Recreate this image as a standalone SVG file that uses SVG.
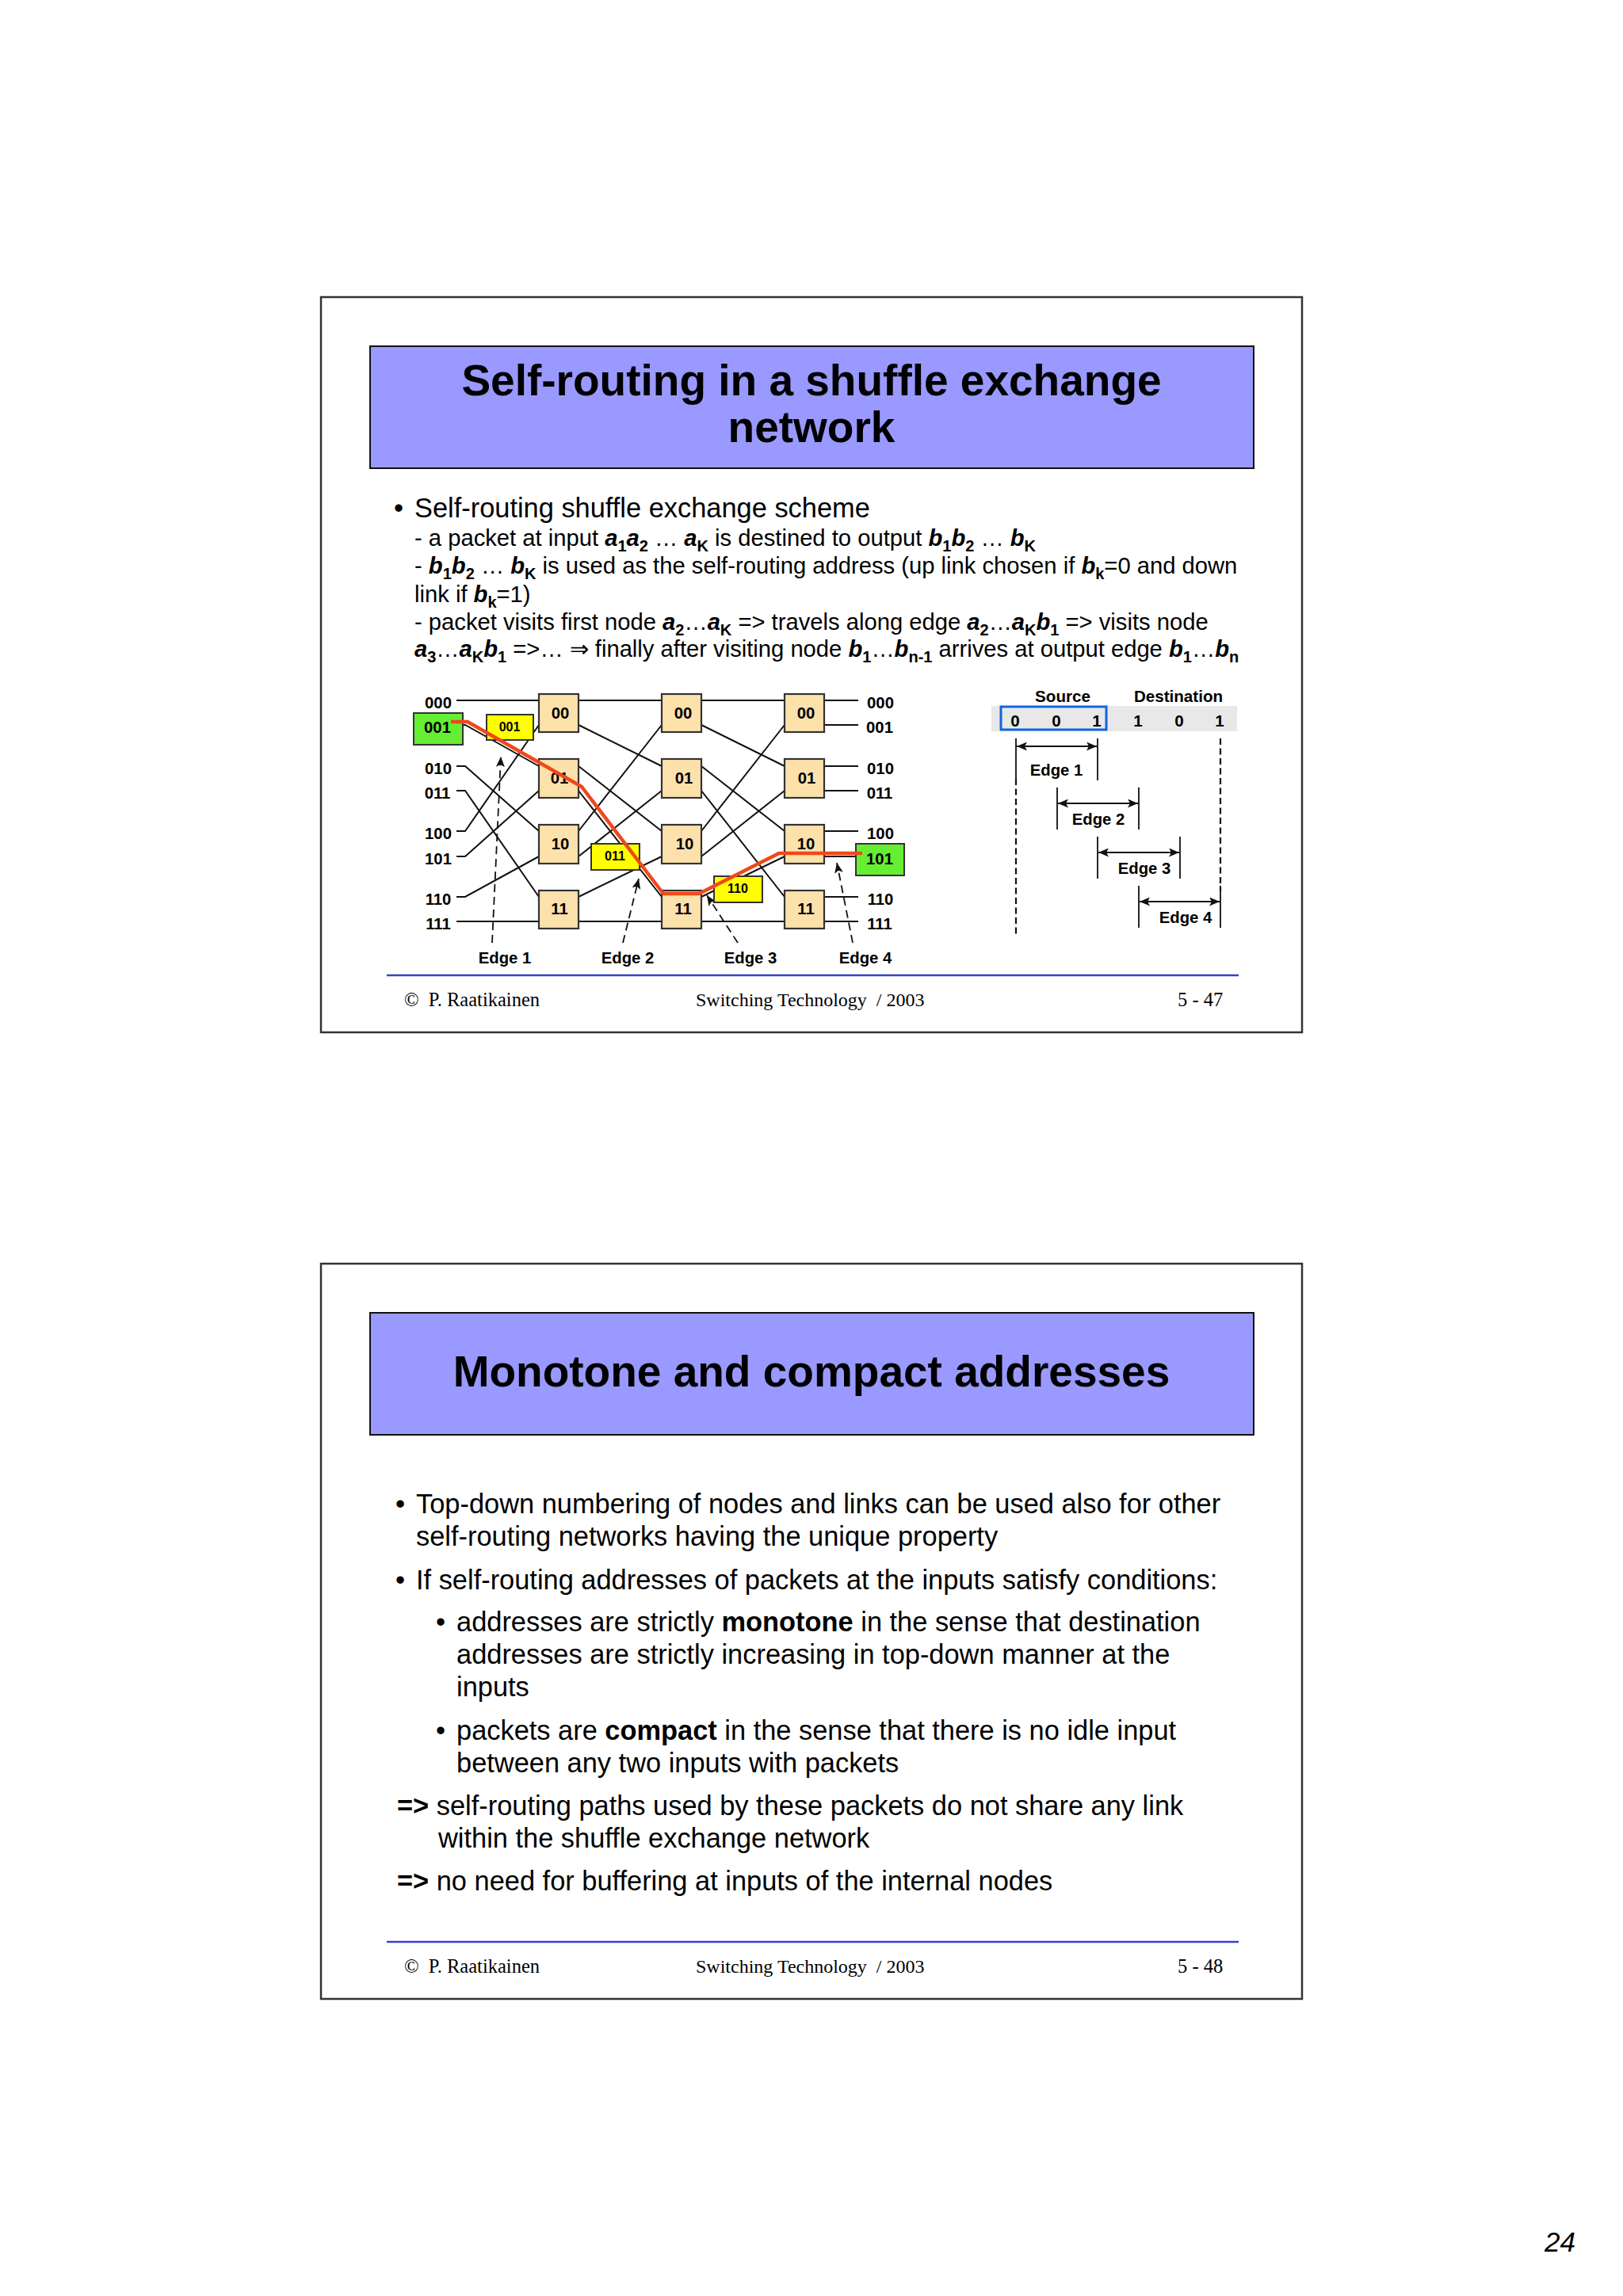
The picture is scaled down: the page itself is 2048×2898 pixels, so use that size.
<svg xmlns="http://www.w3.org/2000/svg" width="2048" height="2898" viewBox="0 0 2048 2898">
<style>
text{font-family:"Liberation Sans",Arial,sans-serif;fill:#000}
.frame{fill:#fff;stroke:#333;stroke-width:2.5}
.title{fill:#9999ff;stroke:#111;stroke-width:2}
.tt{font-size:55px;font-weight:bold;text-anchor:middle}
.rule{stroke:#3344cc;stroke-width:2.5}
.foot{font-family:"Liberation Serif",serif;font-size:24.5px}
.ft2{font-size:24px}
.big{font-size:34.4px}
.sm{font-size:29.2px}
.bi{font-weight:bold;font-style:italic}
.s{font-size:20px;font-weight:bold}
.b{font-weight:bold}
.lab{font-size:20.3px;font-weight:bold;text-anchor:middle}
.hd{font-size:20.6px;font-weight:bold;text-anchor:middle}
.pk{font-size:16px;font-weight:bold;text-anchor:middle}
.nd{fill:#fde1ab;stroke:#333;stroke-width:2.2}
.yl{fill:#ffff00;stroke:#333;stroke-width:2}
.gr{fill:#66ee33;stroke:#333;stroke-width:2}
.w{fill:none;stroke:#111;stroke-width:2}
.d{fill:none;stroke:#111;stroke-width:1.8;stroke-dasharray:10 6;marker-end:url(#ah)}
.t{stroke:#111;stroke-width:1.8}
.v{stroke:#111;stroke-width:2.2;stroke-dasharray:8 4.5}
.dbl{stroke:#111;stroke-width:1.8;marker-start:url(#ahs);marker-end:url(#ah)}
.red{fill:none;stroke:#f0481a;stroke-width:4.5;stroke-linejoin:round}
</style>
<defs>
<marker id="ah" viewBox="0 0 13 11" refX="13" refY="5.5" markerWidth="13" markerHeight="11" markerUnits="userSpaceOnUse" orient="auto"><path d="M0 0L13 5.5L0 11L3 5.5Z" fill="#111"/></marker>
<marker id="ahs" viewBox="0 0 13 11" refX="0" refY="5.5" markerWidth="13" markerHeight="11" markerUnits="userSpaceOnUse" orient="auto"><path d="M13 0L0 5.5L13 11L10 5.5Z" fill="#111"/></marker>
</defs>
<rect width="2048" height="2898" fill="#fff"/>

<g id="slide-47-frame">
<rect class="frame" x="405" y="375" width="1238" height="928"/>
<rect class="title" x="467" y="437" width="1115" height="154"/>
<text class="tt" x="1024" y="499">Self-routing in a shuffle exchange</text>
<text class="tt" x="1024" y="558">network</text>
</g>

<g id="slide-47-text">
<text class="big" x="497" y="653">•</text>
<text class="big" x="523" y="653">Self-routing shuffle exchange scheme</text>
<text class="sm" x="523" y="689">- a packet at input <tspan class="bi">a</tspan><tspan class="s" dy="7">1</tspan><tspan class="bi" dy="-7">a</tspan><tspan class="s" dy="7">2</tspan><tspan dy="-7"> … </tspan><tspan class="bi">a</tspan><tspan class="s" dy="7">K</tspan><tspan dy="-7"> is destined to output </tspan><tspan class="bi">b</tspan><tspan class="s" dy="7">1</tspan><tspan class="bi" dy="-7">b</tspan><tspan class="s" dy="7">2</tspan><tspan dy="-7"> … </tspan><tspan class="bi">b</tspan><tspan class="s" dy="7">K</tspan></text>
<text class="sm" x="523" y="724">- <tspan class="bi">b</tspan><tspan class="s" dy="7">1</tspan><tspan class="bi" dy="-7">b</tspan><tspan class="s" dy="7">2</tspan><tspan dy="-7"> … </tspan><tspan class="bi">b</tspan><tspan class="s" dy="7">K</tspan><tspan dy="-7"> is used as the self-routing address (up link chosen if </tspan><tspan class="bi">b</tspan><tspan class="s" dy="7">k</tspan><tspan dy="-7">=0 and down</tspan></text>
<text class="sm" x="523" y="760">link if <tspan class="bi">b</tspan><tspan class="s" dy="7">k</tspan><tspan dy="-7">=1)</tspan></text>
<text class="sm" x="523" y="795">- packet visits first node <tspan class="bi">a</tspan><tspan class="s" dy="7">2</tspan><tspan dy="-7">…</tspan><tspan class="bi">a</tspan><tspan class="s" dy="7">K</tspan><tspan dy="-7"> =&gt; travels along edge </tspan><tspan class="bi">a</tspan><tspan class="s" dy="7">2</tspan><tspan dy="-7">…</tspan><tspan class="bi">a</tspan><tspan class="s" dy="7">K</tspan><tspan class="bi" dy="-7">b</tspan><tspan class="s" dy="7">1</tspan><tspan dy="-7"> =&gt; visits node</tspan></text>
<text class="sm" x="523" y="829"><tspan class="bi">a</tspan><tspan class="s" dy="7">3</tspan><tspan dy="-7">…</tspan><tspan class="bi">a</tspan><tspan class="s" dy="7">K</tspan><tspan class="bi" dy="-7">b</tspan><tspan class="s" dy="7">1</tspan><tspan dy="-7"> =&gt;… ⇒ finally after visiting node </tspan><tspan class="bi">b</tspan><tspan class="s" dy="7">1</tspan><tspan dy="-7">…</tspan><tspan class="bi">b</tspan><tspan class="s" dy="7">n-1</tspan><tspan dy="-7"> arrives at output edge </tspan><tspan class="bi">b</tspan><tspan class="s" dy="7">1</tspan><tspan dy="-7">…</tspan><tspan class="bi">b</tspan><tspan class="s" dy="7">n</tspan></text>
</g>

<g id="connectors">
<path class="w" d="M576 884H1083M576 1163H1083"/>
<path class="w" d="M576 915H587L680 967M576 967H587L680 1049M576 998H587L680 1132M576 1049H587L680 915M576 1081H587L680 998M576 1132H587L680 1081"/>
<path class="w" d="M730 915L835 967M730 967L835 1049M730 998L835 1132M730 1049L835 915M730 1081L835 998M730 1132L835 1081"/>
<path class="w" d="M885 915L990 967M885 967L990 1049M885 998L990 1132M885 1049L990 915M885 1081L990 998M885 1132L990 1081"/>
<path class="w" d="M1040 915H1083M1040 967H1083M1040 998H1083M1040 1049H1083M1040 1081H1083M1040 1132H1083"/>
<path class="d" d="M621 1190L632 955"/>
<path class="d" d="M786 1190L806 1109"/>
<path class="d" d="M931 1190L892 1130"/>
<path class="d" d="M1076 1190L1056 1089"/>
</g>

<g id="in-000"><text class="lab" x="553" y="894">000</text></g>
<g id="in-001"><rect class="gr" x="522" y="900" width="62" height="40"/><text class="lab" x="552" y="925">001</text></g>
<g id="in-010"><text class="lab" x="553" y="977">010</text></g>
<g id="in-011"><text class="lab" x="552" y="1008">011</text></g>
<g id="in-100"><text class="lab" x="553" y="1059">100</text></g>
<g id="in-101"><text class="lab" x="553" y="1091">101</text></g>
<g id="in-110"><text class="lab" x="553" y="1142">110</text></g>
<g id="in-111"><text class="lab" x="553" y="1173">111</text></g>

<g id="n1-00"><rect class="nd" x="680" y="876" width="50" height="48"/><text class="lab" x="707" y="907">00</text></g>
<g id="n1-01"><rect class="nd" x="680" y="958" width="50" height="49"/><text class="lab" x="706" y="989">01</text></g>
<g id="n1-10"><rect class="nd" x="680" y="1041" width="50" height="49"/><text class="lab" x="707" y="1072">10</text></g>
<g id="n1-11"><rect class="nd" x="680" y="1124" width="50" height="48"/><text class="lab" x="706" y="1154">11</text></g>
<g id="n2-00"><rect class="nd" x="835" y="876" width="50" height="48"/><text class="lab" x="862" y="907">00</text></g>
<g id="n2-01"><rect class="nd" x="835" y="958" width="50" height="49"/><text class="lab" x="863" y="989">01</text></g>
<g id="n2-10"><rect class="nd" x="835" y="1041" width="50" height="49"/><text class="lab" x="864" y="1072">10</text></g>
<g id="n2-11"><rect class="nd" x="835" y="1124" width="50" height="48"/><text class="lab" x="862" y="1154">11</text></g>
<g id="n3-00"><rect class="nd" x="990" y="876" width="50" height="48"/><text class="lab" x="1017" y="907">00</text></g>
<g id="n3-01"><rect class="nd" x="990" y="958" width="50" height="49"/><text class="lab" x="1018" y="989">01</text></g>
<g id="n3-10"><rect class="nd" x="990" y="1041" width="50" height="49"/><text class="lab" x="1017" y="1072">10</text></g>
<g id="n3-11"><rect class="nd" x="990" y="1124" width="50" height="48"/><text class="lab" x="1017" y="1154">11</text></g>

<g id="out-000"><text class="lab" x="1111" y="894">000</text></g>
<g id="out-001"><text class="lab" x="1110" y="925">001</text></g>
<g id="out-010"><text class="lab" x="1111" y="977">010</text></g>
<g id="out-011"><text class="lab" x="1110" y="1008">011</text></g>
<g id="out-100"><text class="lab" x="1111" y="1059">100</text></g>
<g id="out-101"><rect class="gr" x="1080" y="1065" width="61" height="40"/><text class="lab" x="1110" y="1091">101</text></g>
<g id="out-110"><text class="lab" x="1111" y="1142">110</text></g>
<g id="out-111"><text class="lab" x="1110" y="1173">111</text></g>

<g id="pk-001"><rect class="yl" x="614" y="902" width="59" height="32"/><text class="pk" x="643" y="923">001</text></g>
<g id="pk-011"><rect class="yl" x="746" y="1065" width="61" height="33"/><text class="pk" x="776" y="1086">011</text></g>
<g id="pk-110"><rect class="yl" x="901" y="1106" width="61" height="33"/><text class="pk" x="931" y="1127">110</text></g>

<g id="route"><path class="red" d="M569 911H590L734 993L837 1128H882L983 1077H1088"/></g>

<g id="edge-labels">
<text class="lab" x="637" y="1216">Edge 1</text>
<text class="lab" x="792" y="1216">Edge 2</text>
<text class="lab" x="947" y="1216">Edge 3</text>
<text class="lab" x="1092" y="1216">Edge 4</text>
</g>

<g id="address-bar">
<rect x="1251" y="891" width="310" height="32" fill="#e8e8e8"/>
<rect x="1263" y="892" width="133" height="29" fill="none" stroke="#1166dd" stroke-width="3"/>
<text class="hd" x="1341" y="886">Source</text>
<text class="hd" x="1487" y="886">Destination</text>
<text class="hd" x="1281" y="917">0</text>
<text class="hd" x="1333" y="917">0</text>
<text class="hd" x="1384" y="917">1</text>
<text class="hd" x="1436" y="917">1</text>
<text class="hd" x="1488" y="917">0</text>
<text class="hd" x="1539" y="917">1</text>
</g>
<g id="edge-spans">
<path class="t" d="M1282 932V983M1385 932V985M1334 994V1047M1437 994V1047M1385 1056V1109M1489 1056V1109M1437 1118V1171M1540 1118V1171"/>
<path class="v" d="M1282 983V1182M1540 932V1125"/>
<path class="dbl" d="M1283 942H1384"/>
<path class="dbl" d="M1335 1014H1436"/>
<path class="dbl" d="M1386 1076H1488"/>
<path class="dbl" d="M1438 1138H1539"/>
<text class="lab" x="1333" y="979">Edge 1</text>
<text class="lab" x="1386" y="1041">Edge 2</text>
<text class="lab" x="1444" y="1103">Edge 3</text>
<text class="lab" x="1496" y="1165">Edge 4</text>
</g>

<g id="slide-47-footer">
<line class="rule" x1="488" y1="1231" x2="1563" y2="1231"/>
<text class="foot" x="510" y="1270">©&#160;&#160;P. Raatikainen</text>
<text class="foot ft2" x="878" y="1270">Switching Technology&#160;&#160;/ 2003</text>
<text class="foot" x="1486" y="1270">5 - 47</text>
</g>

<g id="slide-48-frame">
<rect class="frame" x="405" y="1595" width="1238" height="928"/>
<rect class="title" x="467" y="1657" width="1115" height="154"/>
<text class="tt" x="1024" y="1750">Monotone and compact addresses</text>
</g>
<g id="slide-48-text">
<text class="big" x="499" y="1910">•</text><text class="big" x="525" y="1910">Top-down numbering of nodes and links can be used also for other</text>
<text class="big" x="525" y="1951">self-routing networks having the unique property</text>
<text class="big" x="499" y="2006">•</text><text class="big" x="525" y="2006">If self-routing addresses of packets at the inputs satisfy conditions:</text>
<text class="big" x="550" y="2059">•</text><text class="big" x="576" y="2059">addresses are strictly <tspan class="b">monotone</tspan> in the sense that destination</text>
<text class="big" x="576" y="2100">addresses are strictly increasing in top-down manner at the</text>
<text class="big" x="576" y="2141">inputs</text>
<text class="big" x="550" y="2196">•</text><text class="big" x="576" y="2196">packets are <tspan class="b">compact</tspan> in the sense that there is no idle input</text>
<text class="big" x="576" y="2237">between any two inputs with packets</text>
<text class="big" x="501" y="2291"><tspan class="b">=&gt;</tspan> self-routing paths used by these packets do not share any link</text>
<text class="big" x="553" y="2332">within the shuffle exchange network</text>
<text class="big" x="501" y="2386"><tspan class="b">=&gt;</tspan> no need for buffering at inputs of the internal nodes</text>
</g>
<g id="slide-48-footer">
<line class="rule" x1="488" y1="2451" x2="1563" y2="2451"/>
<text class="foot" x="510" y="2490">©&#160;&#160;P. Raatikainen</text>
<text class="foot ft2" x="878" y="2490">Switching Technology&#160;&#160;/ 2003</text>
<text class="foot" x="1486" y="2490">5 - 48</text>
</g>
<g id="page-number"><text x="1949" y="2842" style="font-size:35px;font-style:italic">24</text></g>
</svg>
